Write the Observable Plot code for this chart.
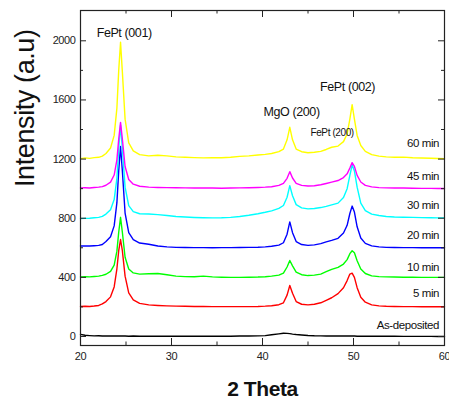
<!DOCTYPE html>
<html>
<head>
<meta charset="utf-8">
<script src="https://cdn.jsdelivr.net/npm/d3@7"></script>
<script src="https://cdn.jsdelivr.net/npm/@observablehq/plot@0.6"></script>
<style>
  html, body { margin: 0; padding: 0; background: #fff; }
  #chart svg { display: block; }
</style>
</head>
<body>
<div id="chart"></div>
<script>
// ---- Data (2θ in degrees, intensity in a.u.) ----
const twoTheta = [20, 20.5, 21, 21.5, 22, 22.4, 22.8, 23.3, 23.7, 24.0, 24.2, 24.4, 24.6, 24.9, 25.3, 25.8, 26.5,
  27.5, 28.5, 29.5, 30.5, 31.5, 32.5, 33.5, 34.5, 35.5, 36.5, 37.5, 38.5, 39.5, 40.3, 41, 41.8, 42.3, 42.7, 43.0, 43.3,
  43.7, 44.3, 45, 45.7, 46.4, 47, 47.6, 48.3, 48.9, 49.3, 49.6, 49.85, 50.1, 50.4, 50.8, 51.3, 52, 52.8, 53.6, 54.5,
  55.5, 56.5, 57.5, 58.5, 59.3, 60];

const min60 = [1203, 1208, 1205, 1210, 1212, 1220, 1238, 1275, 1360, 1545, 1800, 1990, 1790, 1470, 1310, 1255, 1230,
  1222, 1226, 1222, 1215, 1212, 1210, 1208, 1210, 1209, 1212, 1218, 1222, 1228, 1232, 1238, 1250, 1268, 1330, 1415, 1330,
  1268, 1250, 1243, 1246, 1252, 1265, 1280, 1288, 1318, 1370, 1470, 1568, 1470, 1360, 1292, 1252, 1230, 1220, 1215, 1212,
  1213, 1209, 1207, 1206, 1204, 1203];

const min45 = [1005, 1006, 1004, 1008, 1010, 1014, 1023, 1044, 1092, 1195, 1335, 1448, 1335, 1150, 1062, 1030, 1016,
  1010, 1008, 1007, 1006, 1005, 1004, 1005, 1004, 1003, 1004, 1005, 1006, 1008, 1010, 1013, 1022, 1036, 1070, 1115, 1072,
  1036, 1022, 1018, 1020, 1026, 1035, 1044, 1055, 1075, 1100, 1140, 1176, 1150, 1090, 1045, 1022, 1012, 1007, 1005, 1004,
  1004, 1003, 1002, 1002, 1001, 1001];

const min30 = [797, 799, 800, 803, 806, 812, 828, 858, 926, 1070, 1270, 1430, 1272, 1010, 885, 845, 830,
  828, 824, 818, 812, 808, 805, 803, 802, 803, 806, 812, 820, 830, 840, 850, 866, 886, 942, 1020, 952,
  892, 870, 863, 866, 872, 880, 890, 902, 940, 1000, 1090, 1160, 1120, 1010, 902, 852, 828, 818, 812, 808,
  807, 806, 804, 803, 802, 802];

const min20 = [612, 613, 612, 614, 616, 622, 642, 674, 748, 905, 1120, 1285, 1120, 835, 702, 655, 632,
  624, 612, 606, 603, 602, 601, 601, 600, 601, 601, 602, 603, 604, 606, 610, 618, 634, 692, 775, 702,
  642, 622, 616, 620, 628, 640, 650, 664, 700, 752, 832, 882, 842, 742, 666, 630, 613, 606, 603, 602,
  601, 601, 600, 600, 600, 600];

const min10 = [403, 404, 403, 406, 408, 413, 421, 440, 483, 577, 705, 806, 705, 536, 456, 430, 422,
  424, 426, 418, 408, 405, 404, 408, 403, 401, 400, 400, 401, 402, 404, 408, 415, 428, 470, 514, 478,
  436, 418, 412, 415, 422, 438, 454, 468, 490, 520, 560, 580, 566, 512, 456, 426, 410, 405, 403, 402,
  401, 401, 400, 400, 400, 400];

const min5 = [203, 204, 203, 206, 210, 220, 236, 268, 335, 458, 580, 656, 580, 408, 295, 248, 224,
  214, 210, 207, 205, 204, 203, 203, 202, 202, 202, 202, 202, 203, 205, 208, 215, 228, 280, 345, 292,
  236, 218, 214, 218, 228, 245, 262, 290, 330, 378, 422, 428, 400, 330, 265, 232, 214, 207, 204, 203,
  202, 202, 201, 201, 201, 201];

const asDeposited = [14, 8, 6, 4, 5, 3, 4, 3, 4, 3, 4, 3, 4, 3, 2, 3, 2,
  2, 2, 2, 2, 2, 2, 2, 2, 2, 2, 3, 3, 4, 6, 12, 18, 22, 21, 19, 16,
  13, 10, 7, 5, 4, 3, 3, 3, 3, 3, 3, 3, 3, 2, 2, 2, 2, 2, 2, 2,
  1, 1, 1, 1, 0, 0];

const seriesNames = ["As-deposited", "5 min", "10 min", "20 min", "30 min", "45 min", "60 min"];
const seriesValues = [asDeposited, min5, min10, min20, min30, min45, min60];
const seriesColors = ["#000000", "#ff0000", "#00ff00", "#0000ff", "#00ffff", "#ff00ff", "#ffff00"];

// series labels (data coordinates)
const seriesLabelX = [59.4, 59.4, 59.4, 59.4, 59.4, 59.4, 59.4];
const seriesLabelY = [74, 290, 466, 682, 885, 1081, 1304];

// peak annotations
const peakNames = ["FePt (001)", "MgO (200)", "FePt (002)", "FePt (200)"];
const peakX = [24.8, 43.2, 49.35, 47.65];
const peakY = [2054, 1520, 1689, 1378];
const peakSizes = [12.5, 12.5, 12.5, 10];

// axis ticks
const xMajor = [20, 30, 40, 50, 60];
const xMinor = [25, 35, 45, 55];
const yMajor = [0, 400, 800, 1200, 1600, 2000];
const yMinor = [200, 600, 1000, 1400, 1800];

const rows = [];
seriesNames.forEach((name, i) => {
  seriesValues[i].forEach((v, j) => rows.push({series: name, theta: twoTheta[j], value: v}));
});

const W = 449, H = 403, mL = 80, mR = 5, mT = 10, mB = 58;
const plotW = W - mL - mR, plotH = H - mT - mB;
const font = "'Liberation Sans', Arial, sans-serif";

const chart = Plot.plot({
  width: W, height: H,
  marginLeft: mL, marginRight: mR, marginTop: mT, marginBottom: mB,
  x: {domain: [20, 60]},
  y: {domain: [-61, 2205]},
  color: {domain: seriesNames, range: seriesColors},
  style: {fontFamily: font, fontSize: "11px", color: "#222", background: "#fff"},
  marks: [
    Plot.line(rows, {x: "theta", y: "value", z: "series", stroke: "series", strokeWidth: 1.4, curve: "linear"}),
    Plot.frame({stroke: "#222", strokeWidth: 1.2}),
    // inward ticks: bottom / top
    Plot.tickX(xMajor, {x: d => d, insetTop: plotH - 7, stroke: "#222"}),
    Plot.tickX(xMinor, {x: d => d, insetTop: plotH - 3.5, stroke: "#222"}),
    Plot.tickX(xMajor, {x: d => d, insetBottom: plotH - 7, stroke: "#222"}),
    Plot.tickX(xMinor, {x: d => d, insetBottom: plotH - 3.5, stroke: "#222"}),
    // inward ticks: left / right
    Plot.tickY(yMajor, {y: d => d, insetRight: plotW - 6, stroke: "#222"}),
    Plot.tickY(yMinor, {y: d => d, insetRight: plotW - 3, stroke: "#222"}),
    Plot.tickY(yMajor, {y: d => d, insetLeft: plotW - 6, stroke: "#222"}),
    Plot.tickY(yMinor, {y: d => d, insetLeft: plotW - 3, stroke: "#222"}),
    // tick labels
    Plot.axisX({ticks: xMajor, tickSize: 0, tickPadding: 7, label: null, fontSize: 11, tickFormat: "d"}),
    Plot.axisY({ticks: yMajor, tickSize: 0, tickPadding: 5, label: null, fontSize: 11, tickFormat: "d"}),
    // axis titles
    Plot.text(["2 Theta"], {frameAnchor: "bottom", dy: 50, lineAnchor: "bottom", fontSize: 21, fontWeight: "bold", fill: "#111", text: d => d}),
    Plot.text(["Intensity (a.u)"], {frameAnchor: "left", dx: -55, dy: 9, rotate: -90, fontSize: 27, fill: "#111", text: d => d}),
    // series labels
    Plot.text(seriesNames, {x: (d, i) => seriesLabelX[i], y: (d, i) => seriesLabelY[i], text: d => d, textAnchor: "end", fontSize: 11.5, fill: "#111"}),
    // peak annotations
    Plot.text(peakNames, {x: (d, i) => peakX[i], y: (d, i) => peakY[i], text: d => d, fontSize: (d, i) => peakSizes[i], fill: "#111"})
  ]
});

d3.select(chart).selectAll("text").style("letter-spacing", "-0.4px");
document.getElementById("chart").appendChild(chart);
</script>
</body>
</html>
